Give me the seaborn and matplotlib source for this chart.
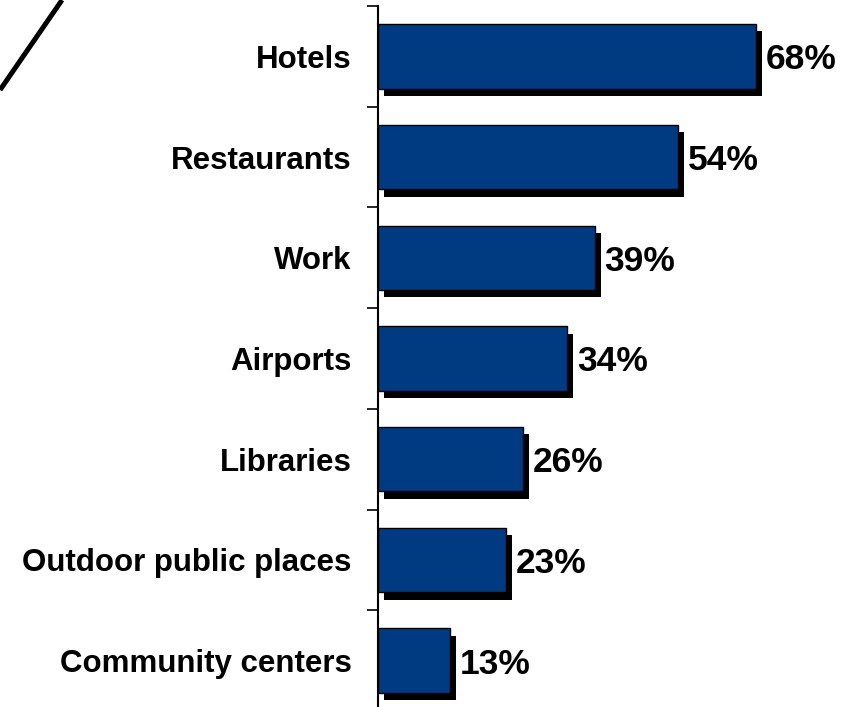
import matplotlib
matplotlib.use("Agg")
import matplotlib.pyplot as plt
import matplotlib.patheffects as pe
from matplotlib.lines import Line2D
import numpy as np
import pandas as pd
import seaborn as sns

categories = ["Hotels", "Restaurants", "Work", "Airports", "Libraries",
              "Outdoor public places", "Community centers"]
values = [68, 54, 39, 34, 26, 23, 13]
value_labels = ["68%", "54%", "39%", "34%", "26%", "23%", "13%"]

sns.set_theme(style="white")
plt.rcParams["font.family"] = ["Liberation Sans", "DejaVu Sans"]

W, H = 852, 707
fig = plt.figure(figsize=(W / 100, H / 100), dpi=100)
ax = fig.add_axes([378 / W, 1 - 711 / H, 1 - 378 / W, (711 - 6) / H])

df = pd.DataFrame({"place": categories, "share": values})
sns.barplot(data=df, x="share", y="place", orient="h", color="#003A80",
            saturation=1, edgecolor="black", linewidth=1.0, width=0.64, ax=ax)

shadow = [pe.SimplePatchShadow(offset=(4.3, -5.3), shadow_rgbFace="black", alpha=1.0),
          pe.Normal()]
for bar in ax.patches:
    bar.set_path_effects(shadow)

for i, (v, lab) in enumerate(zip(values, value_labels)):
    ax.annotate(lab, xy=(v, i), xytext=(7, -2.5), textcoords="offset points",
                ha="left", va="center", fontsize=25.5, fontweight="bold",
                color="black")

ax.set_xlim(0, (W - 378) / 5.56)
ax.set_ylim(len(categories) - 0.5, -0.5)
ax.set_xlabel("")
ax.set_ylabel("")
ax.set_xticks([])

ax.set_yticks(np.arange(len(categories)))
ax.set_yticklabels(categories, fontsize=22.5, fontweight="bold", color="black")
ax.set_yticks(np.arange(len(categories) + 1) - 0.5, minor=True)
ax.tick_params(axis="y", which="major", length=0, pad=19, labelcolor="black")
ax.tick_params(axis="y", which="minor", length=8, width=1.2, color="black", left=True)

for side in ["top", "right", "bottom"]:
    ax.spines[side].set_visible(False)
ax.spines["left"].set_color("black")
ax.spines["left"].set_linewidth(1.5)

# decorative slash in the upper-left corner
fig.add_artist(Line2D([0 / W, 62 / W], [1 - 90 / H, 1.0], transform=fig.transFigure,
                      color="black", linewidth=3.6, solid_capstyle="butt"))

fig.savefig("out.png", dpi=100)
